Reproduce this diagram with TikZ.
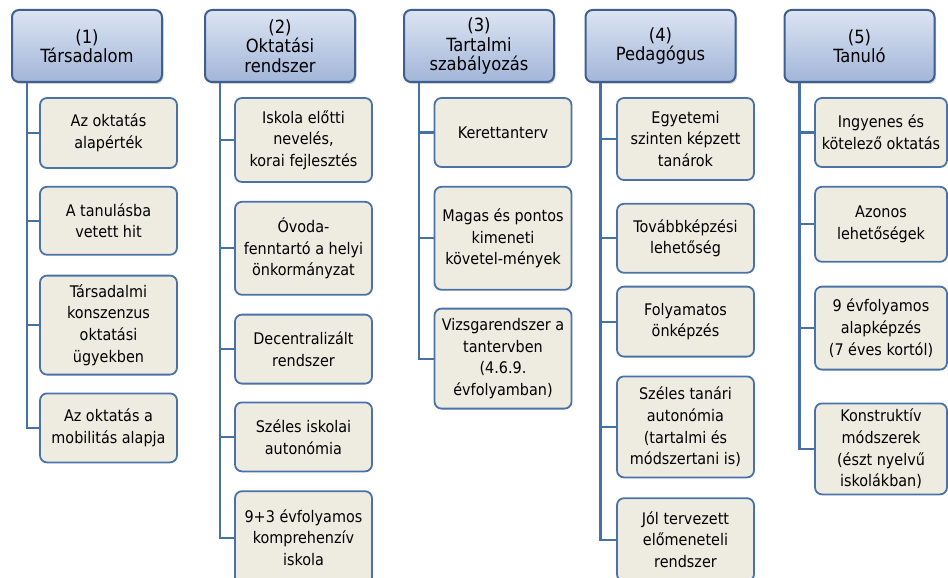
\documentclass[tikz,border=0pt]{standalone}
\usepackage{fontspec}
\setmainfont{DejaVu Sans Condensed}
\usetikzlibrary{positioning}
\usetikzlibrary{calc}
\usetikzlibrary{shadows}
\definecolor{headtop}{HTML}{DCE4F2}
\definecolor{headbot}{HTML}{A2B6D9}
\definecolor{headline}{HTML}{3F5F8E}
\definecolor{itemfill}{HTML}{EEECE1}
\definecolor{itemline}{HTML}{4A72A6}
\definecolor{connline}{HTML}{4770A5}
\newcommand{\headfont}{\fontsize{18.2}{19.5}\selectfont}
\newcommand{\itemfont}{\fontsize{16}{21.7}\selectfont}
\tikzset{head/.style={draw=headline, line width=2pt, rounded corners=7pt, top color=headtop, bottom color=headbot, minimum width=150pt, minimum height=72pt, inner sep=0pt, align=center, font=\headfont, drop shadow={shadow xshift=1.5pt, shadow yshift=-2pt, opacity=0.35}}}
\tikzset{item/.style={draw=itemline, line width=1.8pt, rounded corners=7pt, fill=itemfill, minimum width=137pt, inner sep=0pt, align=center, font=\itemfont}}
\tikzset{conn/.style={draw=connline, line width=2.2pt}}

\begin{document}
\begin{tikzpicture}[x=1pt, y=-1pt]
\useasboundingbox (0,0) rectangle (948,578);

%%% Headers:

\node[head] (h1) at (87, 46) {(1)\\Társadalom};
\node[head] (h2) at (280, 46) {(2)\\Oktatási\\rendszer};
\node[head] (h3) at (479, 46) {(3)\\Tartalmi\\szabályozás};
\node[head] (h4) at (660.5, 46) {(4)\\Pedagógus};
\node[head] (h5) at (859.5, 46) {(5)\\Tanuló};

\coordinate (r1) at ($(h1.south west) + (16,0)$);
\coordinate (r2) at ($(h2.south west) + (16,0)$);
\coordinate (r3) at ($(h3.south west) + (16,0)$);
\coordinate (r4) at ($(h4.south west) + (16,0)$);
\coordinate (r5) at ($(h5.south west) + (16,0)$);

%%% Column 1:

\node[item, minimum height=70pt] (i11) at (108.5, 133) {Az oktatás\\alapérték};
\node[item, minimum height=68pt] (i12) [below=17pt of i11] {A tanulásba\\vetett hit};
\node[item, minimum height=99pt] (i13) [below=19pt of i12] {Társadalmi\\konszenzus\\oktatási\\ügyekben};
\node[item, minimum height=69pt] (i14) [below=17pt of i13] {Az oktatás a\\mobilitás alapja};

%%% Column 2:

\node[item, minimum height=84pt] (i21) at (303.5, 140) {Iskola előtti\\nevelés,\\korai fejlesztés};
\node[item, minimum height=93pt] (i22) [below=18pt of i21] {Óvoda-\\fenntartó a helyi\\önkormányzat};
\node[item, minimum height=69pt] (i23) [below=18pt of i22] {Decentralizált\\rendszer};
\node[item, minimum height=69pt] (i24) [below=17pt of i23] {Széles iskolai\\autonómia};
\node[item, minimum height=93pt] (i25) [below=18pt of i24] {9+3 évfolyamos\\komprehenzív\\iskola};

%%% Column 3:

\node[item, minimum height=69pt] (i31) at (503, 132.5) {Kerettanterv};
\node[item, minimum height=103pt] (i32) [below=18pt of i31] {Magas és pontos\\kimeneti\\követel-mények};
\node[item, minimum height=100pt] (i33) [below=17pt of i32] {Vizsgarendszer a\\tantervben\\(4.6.9.\\évfolyamban)};

%%% Column 4:

\node[item, minimum height=82pt] (i41) at (685.5, 139) {Egyetemi\\szinten képzett\\tanárok};
\node[item, minimum height=69pt] (i42) [below=22pt of i41] {Továbbképzési\\lehetőség};
\node[item, minimum height=70pt] (i43) [below=12pt of i42] {Folyamatos\\önképzés};
\node[item, minimum height=101pt] (i44) [below=18pt of i43] {Széles tanári\\autonómia\\(tartalmi és\\módszertani is)};
\node[item, minimum height=83pt] (i45) [below=19pt of i44] {Jól tervezett\\előmeneteli\\rendszer};

%%% Column 5:

\node[item, minimum width=132pt, minimum height=69pt] (i51) at (881, 132.5) {Ingyenes és\\kötelező oktatás};
\node[item, minimum width=132pt, minimum height=75pt] (i52) [below=18pt of i51] {Azonos\\lehetőségek};
\node[item, minimum width=132pt, minimum height=83pt] (i53) [below=23pt of i52] {9 évfolyamos\\alapképzés\\(7 éves kortól)};
\node[item, minimum width=132pt, minimum height=91pt] (i54) [below=32pt of i53] {Konstruktív\\módszerek\\(észt nyelvű\\iskolákban)};

%%% Connectors:

\foreach \k in {1,...,4} \draw[conn] (r1) |- (i1\k.west);
\foreach \k in {1,...,5} \draw[conn] (r2) |- (i2\k.west);
\foreach \k in {1,...,3} \draw[conn] (r3) |- (i3\k.west);
\foreach \k in {1,...,5} \draw[conn] (r4) |- (i4\k.west);
\foreach \k in {1,...,4} \draw[conn] (r5) |- (i5\k.west);

\end{tikzpicture}
\end{document}
